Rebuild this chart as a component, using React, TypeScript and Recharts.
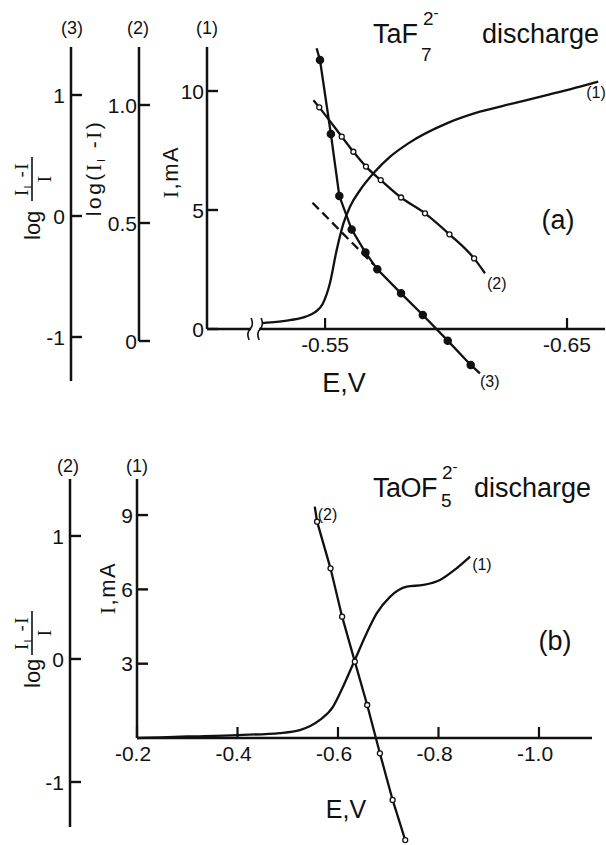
import React from 'react';
import {
  LineChart,
  Line,
  XAxis,
  YAxis,
  ReferenceLine,
  ReferenceDot,
  LabelList,
} from 'recharts';

const INK = '#111';
const SANS = '"Liberation Sans", Arial, sans-serif';
const SERIF = '"Liberation Serif", "Times New Roman", serif';
const CURVE_W = 2.3;

// ---------- (a) TaF7(2-) discharge ----------
// (1) polarisation curve, I in mA
const taF7CurveE = [
  -0.524, -0.53, -0.536, -0.542, -0.546, -0.549, -0.552, -0.5548, -0.5576, -0.5603,
  -0.5645, -0.57, -0.5769, -0.5844, -0.6003, -0.614, -0.6278, -0.6416, -0.6554, -0.6629,
];
const taF7CurveI = [
  0.25, 0.3, 0.38, 0.52, 0.72, 1.05, 1.92, 3.32, 4.44, 5.14,
  5.84, 6.54, 7.24, 7.8, 8.64, 9.13, 9.48, 9.83, 10.18, 10.39,
];
// (2) log(Il - I)
const taF7LogDiffE = [
  -0.5452, -0.5476, -0.5569, -0.5617, -0.5669, -0.573, -0.5814, -0.5913, -0.6014, -0.6116, -0.6161,
];
const taF7LogDiff = [1.02, 0.99, 0.866, 0.802, 0.739, 0.682, 0.608, 0.541, 0.452, 0.35, 0.287];
// (3) log((Il - I)/I)
const taF7LogRatioE = [
  -0.5465, -0.5479, -0.5524, -0.5559, -0.561, -0.5667, -0.5716, -0.5814, -0.5904, -0.6007, -0.6102, -0.614,
];
const taF7LogRatio = [1.386, 1.289, 0.678, 0.165, -0.112, -0.302, -0.441, -0.639, -0.818, -1.03, -1.231, -1.3];
// dashed extrapolation of the linear part of (3)
const taF7TangentE = [-0.5448, -0.57];
const taF7Tangent = [0.11, -0.4];

const taF7ETicks = [-0.55, -0.65];
const taF7ITicks = [0, 5, 10];
const taF7LogDiffTicks = [0, 0.5, 1];
const taF7LogRatioTicks = [-1, 0, 1];

// ---------- (b) TaOF5(2-) discharge ----------
const taOF5CurveE = [
  -0.2, -0.3, -0.401, -0.484, -0.524, -0.564, -0.59, -0.61, -0.6335, -0.657,
  -0.677, -0.7035, -0.737, -0.77, -0.803, -0.836, -0.863,
];
const taOF5CurveI = [
  0, 0.06, 0.12, 0.2, 0.32, 0.73, 1.26, 2.07, 3.15, 4.23,
  5.03, 5.7, 6.11, 6.18, 6.38, 6.85, 7.32,
];
const taOF5LogRatioE = [
  -0.5538, -0.5584, -0.5851, -0.6082, -0.6335, -0.6581, -0.6834, -0.7087, -0.7338, -0.7355,
];
const taOF5LogRatio = [1.238, 1.116, 0.737, 0.344, -0.022, -0.374, -0.767, -1.146, -1.472, -1.494];

const taOF5ETicks = [-0.2, -0.4, -0.6, -0.8, -1.0];
const taOF5ITicks = [3, 6, 9];
const taOF5LogRatioTicks = [-1, 0, 1];

// axis ranges
const A_E_DOMAIN: [number, number] = [-0.6657, -0.5012];
const A_I_DOMAIN: [number, number] = [-2.185, 11.849];
const A_DIFF_DOMAIN: [number, number] = [-0.1695, 1.2458];
const A_RATIO_DOMAIN: [number, number] = [-1.3636, 1.3967];
const B_E_DOMAIN: [number, number] = [-1.1055, -0.2];
const B_I_DOMAIN: [number, number] = [-4.239, 10.456];
const B_RATIO_DOMAIN: [number, number] = [-1.496, 1.463];

// chart frames
const W = 606;
const A_H = 420;
const A_MARGIN = { top: 47, right: 1, bottom: 38, left: 8 };
const B_H = 425;
const B_MARGIN = { top: 59, right: 14, bottom: 1, left: 8 };

const toRows = (es: number[], vs: number[], tag?: string, tagAt?: number) =>
  es.map((E, i) => ({
    E,
    v: vs[i],
    mark: i > 0 && i < es.length - 1,
    tag: i === tagAt ? tag : undefined,
  }));

const taF7Curve = toRows(taF7CurveE, taF7CurveI, '(1)', taF7CurveE.length - 1);
const taF7Diff = toRows(taF7LogDiffE, taF7LogDiff, '(2)', taF7LogDiffE.length - 1);
const taF7Ratio = toRows(taF7LogRatioE, taF7LogRatio, '(3)', taF7LogRatioE.length - 1);
const taF7Tan = toRows(taF7TangentE, taF7Tangent);
const taOF5Curve = toRows(taOF5CurveE, taOF5CurveI, '(1)', taOF5CurveE.length - 1);
const taOF5Ratio = toRows(taOF5LogRatioE, taOF5LogRatio, '(2)', 0);

// pixel row of I = 0 inside a chart
const zeroRow = (top: number, plotH: number, [lo, hi]: [number, number]) =>
  top + (plotH * hi) / (hi - lo);

const A_ZERO = zeroRow(A_MARGIN.top, A_H - A_MARGIN.top - A_MARGIN.bottom - 1, A_I_DOMAIN);
const B_ZERO = zeroRow(B_MARGIN.top, B_H - B_MARGIN.top - B_MARGIN.bottom - 1, B_I_DOMAIN);

const dotRenderer = (filled: boolean) => (props: any) => {
  const { cx, cy, payload, index } = props;
  if (!payload || !payload.mark) return <g key={`n${index}`} />;
  return (
    <circle
      key={`d${index}`}
      cx={cx}
      cy={cy}
      r={filled ? 3.6 : 2.5}
      fill={filled ? INK : '#fff'}
      stroke={INK}
      strokeWidth={1.3}
    />
  );
};

const tagLabel = (dx: number, dy: number) => (props: any) => {
  const { x, y, value } = props;
  if (!value) return null;
  return (
    <text x={x + dx} y={y + dy} fontSize={16} fill={INK} fontFamily={SANS}>
      {value}
    </text>
  );
};

// E axis drawn along I = 0 with ticks pointing up
const ETick = (props: any) => {
  const { x, payload, baseY, digits, shift } = props;
  return (
    <g>
      <path d={`M ${x} ${baseY} V ${baseY - 11}`} stroke={INK} strokeWidth={2.2} fill="none" />
      <text x={x + shift} y={baseY + 23} textAnchor="middle" fontSize={21} fill={INK}>
        {payload.value.toFixed(digits)}
      </text>
    </g>
  );
};

// left-axis tick: short mark pointing into the plot, value to the left
const YTick = (props: any) => {
  const { x, y, payload, gap, fmt } = props;
  const label = fmt ? fmt(payload.value) : String(payload.value);
  return (
    <g>
      <path d={`M ${x} ${y} H ${x + 11}`} stroke={INK} strokeWidth={2.4} fill="none" />
      <text x={x - gap} y={y} dy="0.36em" textAnchor="end" fontSize={21} fill={INK}>
        {label}
      </text>
    </g>
  );
};

const AxisBreak = (props: any) => {
  const { cx, cy } = props;
  const s = (x: number) =>
    `M ${x + 1} ${cy - 11} Q ${x + 4} ${cy - 4} ${x} ${cy} Q ${x - 4} ${cy + 4} ${x - 1} ${cy + 11}`;
  return (
    <g>
      <rect x={cx - 4} y={cy - 3} width={8} height={6} fill="#fff" />
      <path d={s(cx - 5)} fill="none" stroke={INK} strokeWidth={1.6} />
      <path d={s(cx + 5)} fill="none" stroke={INK} strokeWidth={1.6} />
    </g>
  );
};

const axisStyle = (len?: number) => ({
  stroke: INK,
  strokeWidth: 2.5,
  ...(len ? { strokeDasharray: `${len} 3000` } : {}),
});

const fmtDiff = (v: number) => (v === 0 ? '0' : v.toFixed(1));

const LogRatioTitle = ({ x, y, mid }: { x: number; y: number; mid: number }) => (
  <g transform={`translate(${x} ${y}) rotate(-90)`}>
    <text x={0} y={0} fontSize={22}>
      log
    </text>
    <text x={mid} y={-12} fontSize={19} textAnchor="middle" letterSpacing={1.5}>
      <tspan fontFamily={SERIF}>I</tspan>
      <tspan fontSize={11} dy={4}>
        l
      </tspan>
      <tspan dy={-4}> -</tspan>
      <tspan fontFamily={SERIF}>I</tspan>
    </text>
    <line x1={mid - 22} x2={mid + 22} y1={-8} y2={-8} stroke={INK} strokeWidth={1.6} />
    <text x={mid} y={11} fontSize={19} textAnchor="middle" fontFamily={SERIF}>
      I
    </text>
  </g>
);

const CurrentTitle = ({ x, y }: { x: number; y: number }) => (
  <text
    x={x}
    y={y}
    transform={`rotate(-90 ${x} ${y})`}
    textAnchor="middle"
    fontSize={22}
    letterSpacing={1.5}
  >
    <tspan fontFamily={SERIF}>I</tspan>,mA
  </text>
);

const overlay: React.CSSProperties = {
  position: 'absolute',
  left: 0,
  top: 0,
  pointerEvents: 'none',
};

// left axes are stacked by id: y1 sits on the plot, y3 is outermost
export default function App() {
  return (
    <div
      style={{
        position: 'absolute',
        left: 0,
        top: 0,
        width: W,
        height: A_H + B_H,
        background: '#fff',
        fontFamily: SANS,
        color: INK,
      }}
    >
      {/* (a) */}
      <div style={{ position: 'absolute', left: 0, top: 0, width: W, height: A_H }}>
        <LineChart width={W} height={A_H} margin={A_MARGIN}>
          <XAxis
            dataKey="E"
            type="number"
            domain={A_E_DOMAIN}
            reversed
            ticks={taF7ETicks}
            interval={0}
            height={1}
            axisLine={false}
            tickLine={false}
            tick={(p: any) => <ETick {...p} baseY={A_ZERO} digits={2} shift={0} />}
          />
          <YAxis
            yAxisId="y1"
            type="number"
            width={68}
            domain={A_I_DOMAIN}
            ticks={taF7ITicks}
            interval={0}
            tickSize={0}
            tickMargin={0}
            tickLine={false}
            axisLine={axisStyle(282)}
            tick={(p: any) => <YTick {...p} gap={3} />}
          />
          <YAxis
            yAxisId="y2"
            type="number"
            width={68}
            domain={A_DIFF_DOMAIN}
            ticks={taF7LogDiffTicks}
            interval={0}
            tickSize={0}
            tickMargin={0}
            tickLine={false}
            axisLine={axisStyle(294)}
            tick={(p: any) => <YTick {...p} gap={2} fmt={fmtDiff} />}
          />
          <YAxis
            yAxisId="y3"
            type="number"
            width={63}
            domain={A_RATIO_DOMAIN}
            ticks={taF7LogRatioTicks}
            interval={0}
            tickSize={0}
            tickMargin={0}
            tickLine={false}
            axisLine={axisStyle()}
            tick={(p: any) => <YTick {...p} gap={6} />}
          />
          <ReferenceLine yAxisId="y1" y={0} stroke={INK} strokeWidth={2.5} />
          <ReferenceDot yAxisId="y1" x={-0.5211} y={0} r={0} shape={AxisBreak} />
          <Line
            yAxisId="y1"
            data={taF7Curve}
            dataKey="v"
            type="monotone"
            stroke={INK}
            strokeWidth={CURVE_W}
            dot={false}
            activeDot={false}
            isAnimationActive={false}
          >
            <LabelList dataKey="tag" content={tagLabel(-12, 16)} />
          </Line>
          <Line
            yAxisId="y2"
            data={taF7Diff}
            dataKey="v"
            type="monotone"
            stroke={INK}
            strokeWidth={CURVE_W}
            dot={dotRenderer(false)}
            activeDot={false}
            isAnimationActive={false}
          >
            <LabelList dataKey="tag" content={tagLabel(2, 16)} />
          </Line>
          <Line
            yAxisId="y3"
            data={taF7Ratio}
            dataKey="v"
            type="linear"
            stroke={INK}
            strokeWidth={CURVE_W}
            dot={dotRenderer(true)}
            activeDot={false}
            isAnimationActive={false}
          >
            <LabelList dataKey="tag" content={tagLabel(0, 14)} />
          </Line>
          <Line
            yAxisId="y3"
            data={taF7Tan}
            dataKey="v"
            type="linear"
            stroke={INK}
            strokeWidth={CURVE_W}
            strokeDasharray="9 5"
            dot={false}
            activeDot={false}
            isAnimationActive={false}
          />
        </LineChart>
        <svg width={W} height={A_H} style={overlay} fill={INK}>
          <text x={72} y={34} fontSize={18} textAnchor="middle">(3)</text>
          <text x={138} y={34} fontSize={18} textAnchor="middle">(2)</text>
          <text x={207} y={34} fontSize={18} textAnchor="middle">(1)</text>
          <LogRatioTitle x={40} y={240} mid={61} />
          <text
            x={101}
            y={168}
            transform="rotate(-90 101 168)"
            textAnchor="middle"
            fontSize={21}
            letterSpacing={2.5}
          >
            log(<tspan fontFamily={SERIF}>I</tspan>
            <tspan fontSize={11} dy={4}>l</tspan>
            <tspan dy={-4}> -</tspan>
            <tspan fontFamily={SERIF}>I</tspan>)
          </text>
          <CurrentTitle x={178} y={172} />
          <text x={373} y={43} fontSize={27}>TaF</text>
          <text x={423} y={25} fontSize={19}>
            2<tspan dy={-7} fontSize={15}>-</tspan>
          </text>
          <text x={421} y={61} fontSize={19}>7</text>
          <text x={482} y={43} fontSize={27}>discharge</text>
          <text x={558} y={229} fontSize={27} textAnchor="middle">(a)</text>
          <text x={344} y={392} fontSize={27} textAnchor="middle">E,V</text>
        </svg>
      </div>

      {/* (b) */}
      <div style={{ position: 'absolute', left: 0, top: A_H, width: W, height: B_H }}>
        <LineChart width={W} height={B_H} margin={B_MARGIN}>
          <XAxis
            dataKey="E"
            type="number"
            domain={B_E_DOMAIN}
            reversed
            ticks={taOF5ETicks}
            interval={0}
            height={1}
            axisLine={false}
            tickLine={false}
            tick={(p: any) => <ETick {...p} baseY={B_ZERO} digits={1} shift={-4} />}
          />
          <YAxis
            yAxisId="y1"
            type="number"
            width={67}
            domain={B_I_DOMAIN}
            ticks={taOF5ITicks}
            interval={0}
            tickSize={0}
            tickMargin={0}
            tickLine={false}
            axisLine={axisStyle(259)}
            tick={(p: any) => <YTick {...p} gap={4} />}
          />
          <YAxis
            yAxisId="y2"
            type="number"
            width={62}
            domain={B_RATIO_DOMAIN}
            ticks={taOF5LogRatioTicks}
            interval={0}
            tickSize={0}
            tickMargin={0}
            tickLine={false}
            axisLine={axisStyle(348)}
            tick={(p: any) => <YTick {...p} gap={6} />}
          />
          <ReferenceLine yAxisId="y1" y={0} stroke={INK} strokeWidth={2.5} />
          <Line
            yAxisId="y1"
            data={taOF5Curve}
            dataKey="v"
            type="monotone"
            stroke={INK}
            strokeWidth={CURVE_W}
            dot={false}
            activeDot={false}
            isAnimationActive={false}
          >
            <LabelList dataKey="tag" content={tagLabel(2, 13)} />
          </Line>
          <Line
            yAxisId="y2"
            data={taOF5Ratio}
            dataKey="v"
            type="linear"
            stroke={INK}
            strokeWidth={CURVE_W}
            dot={dotRenderer(false)}
            activeDot={false}
            isAnimationActive={false}
          >
            <LabelList dataKey="tag" content={tagLabel(3, 13)} />
          </Line>
        </LineChart>
        <svg width={W} height={B_H} style={overlay} fill={INK}>
          <text x={68} y={52} fontSize={18} textAnchor="middle">(2)</text>
          <text x={137} y={52} fontSize={18} textAnchor="middle">(1)</text>
          <LogRatioTitle x={40} y={268} mid={55} />
          <CurrentTitle x={115} y={168} />
          <text x={373} y={77} fontSize={27} letterSpacing={-0.5}>TaOF</text>
          <text x={442} y={59} fontSize={19}>
            2<tspan dy={-7} fontSize={15}>-</tspan>
          </text>
          <text x={441} y={87} fontSize={19}>5</text>
          <text x={474} y={77} fontSize={27}>discharge</text>
          <text x={555} y={230} fontSize={27} textAnchor="middle">(b)</text>
          <text x={346} y={398} fontSize={25} textAnchor="middle">E,V</text>
        </svg>
      </div>
    </div>
  );
}
